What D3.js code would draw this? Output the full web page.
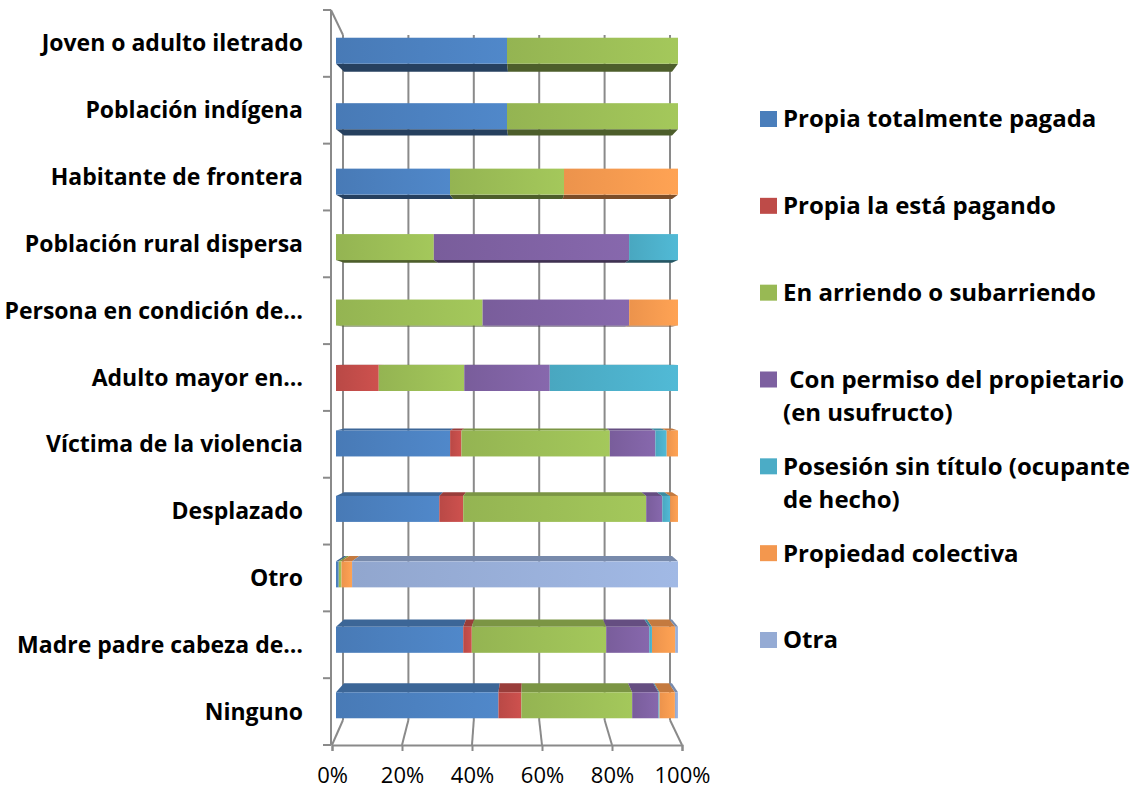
<!DOCTYPE html>
<html>
<head>
<meta charset="utf-8">
<script src="https://cdn.jsdelivr.net/npm/d3@7"></script>
<style>
  body { margin: 0; background: #fff; }
  text { font-family: "Open Sans", Lato, sans-serif; fill: #000; }
</style>
</head>
<body>
<div id="chart"></div>
<script>
// categories, top to bottom
var categories = [
  "Joven o adulto iletrado",
  "Población indígena",
  "Habitante de frontera",
  "Población rural dispersa",
  "Persona en condición de…",
  "Adulto mayor en…",
  "Víctima de la violencia",
  "Desplazado",
  "Otro",
  "Madre padre cabeza de…",
  "Ninguno"
];

// series names (legend lines)
var seriesNames = [
  "Propia totalmente pagada",
  "Propia la está pagando",
  "En arriendo o subarriendo",
  " Con permiso del propietario (en usufructo)",
  "Posesión sin título (ocupante de hecho)",
  "Propiedad colectiva",
  "Otra"
];
var legendLines = [
  ["Propia totalmente pagada"],
  ["Propia la está pagando"],
  ["En arriendo o subarriendo"],
  ["\u00a0Con permiso del propietario", "(en usufructo)"],
  ["Posesión sin título (ocupante", "de hecho)"],
  ["Propiedad colectiva"],
  ["Otra"]
];
var seriesColors = ["#4a7ebb", "#be4b48", "#98b954", "#7d60a0", "#4bacc6", "#f3974e", "#95abd4"];

// percent values per series, same order as categories
var propiaPagada   = [50, 50, 33.3, 0,    0,    0,    33.3, 30.2, 0.8, 37.2, 47.5];
var propiaPagando  = [0,  0,  0,    0,    0,    12.5, 3.3,  7.0,  0,   2.5,  6.7];
var arriendo       = [50, 50, 33.3, 28.6, 42.9, 25,   43.3, 53.5, 0.8, 39.3, 32.4];
var permiso        = [0,  0,  0,    57.1, 42.9, 25,   13.3, 4.7,  0,   12.6, 7.7];
var posesion       = [0,  0,  0,    14.3, 0,    37.5, 3.3,  2.3,  0,   0.8,  0.3];
var colectiva      = [0,  0,  33.3, 0,    14.3, 0,    3.3,  2.3,  3.1, 6.8,  4.5];
var otra           = [0,  0,  0,    0,    0,    0,    0,    0,    95.3, 0.8, 0.9];

var tickValues = [0, 0.2, 0.4, 0.6, 0.8, 1];

var seriesValues = [propiaPagada, propiaPagando, arriendo, permiso, posesion, colectiva, otra];

var rows = categories.map(function (c, i) {
  var r = { cat: c };
  seriesNames.forEach(function (s, j) { r[s] = seriesValues[j][i]; });
  return r;
});

var stacked = d3.stack().keys(seriesNames).offset(d3.stackOffsetExpand)(rows);

var W = 1143, H = 791;
var svg = d3.select('#chart').append('svg')
  .attr('width', W).attr('height', H);

// 3d-ish scales: front plane and back plane
var xFront = d3.scaleLinear().domain([0, 1]).range([332, 682]);
var xWall = d3.scaleLinear().domain([0, 1]).range([343, 670]);
var xBar = d3.scaleLinear().domain([0, 1]).range([336, 678]);
var xBarBack = d3.scaleLinear().domain([0, 1]).range([344, 672]);
var yAxis = d3.scaleBand().domain(categories).range([10, 745]);
var yBar = d3.scaleBand().domain(categories).range([18, 738]);
var barH = 26;
var eyeY = 360, depthK = 0.973;
function backY(y) { return eyeY + (y - eyeY) * depthK; }

var gridColor = '#8a8a8a';

// gradients
var defs = svg.append('defs');
seriesColors.forEach(function (c, i) {
  var g = defs.append('linearGradient').attr('id', 'grad' + i)
    .attr('x1', 0).attr('x2', 1).attr('y1', 0).attr('y2', 0);
  g.append('stop').attr('offset', '0%').attr('stop-color', d3.color(c).darker(0.08));
  g.append('stop').attr('offset', '100%').attr('stop-color', d3.color(c).brighter(0.22));
});

// back wall gridlines
svg.append('g').selectAll('line').data(tickValues).enter().append('line')
  .attr('x1', d => xWall(d)).attr('x2', d => xWall(d))
  .attr('y1', 35).attr('y2', 720)
  .attr('stroke', gridColor).attr('stroke-width', 2);

// floor lines
svg.append('g').selectAll('line').data(tickValues).enter().append('line')
  .attr('x1', d => xWall(d)).attr('x2', d => xFront(d))
  .attr('y1', 720).attr('y2', 745)
  .attr('stroke', gridColor).attr('stroke-width', 2);

// front floor edge with ticks
var xAxisG = svg.append('g')
  .attr('transform', 'translate(0,745)')
  .call(d3.axisBottom(xFront).tickValues(tickValues).tickFormat(d3.format('.0%')).tickSizeOuter(0).tickSize(6).tickPadding(16));
xAxisG.select('.domain').attr('stroke', gridColor).attr('stroke-width', 2);
xAxisG.selectAll('.tick line').attr('stroke', gridColor).attr('stroke-width', 2);
xAxisG.selectAll('.tick text')
  .style('font-family', '"Open Sans", sans-serif').style('font-size', '22px').attr('fill', '#000');

// left wall edges
svg.append('line').attr('x1', 331).attr('y1', 10).attr('x2', xWall(0)).attr('y2', 35)
  .attr('stroke', gridColor).attr('stroke-width', 2);
svg.append('line').attr('x1', 331).attr('y1', 10).attr('x2', 331).attr('y2', 745)
  .attr('stroke', gridColor).attr('stroke-width', 2);

// category ticks on the left axis
var bounds = categories.map(d => yAxis(d)).concat([yAxis.range()[1]]);
svg.append('g').selectAll('line').data(bounds).enter().append('line')
  .attr('x1', 323).attr('x2', 331)
  .attr('y1', d => d).attr('y2', d => d)
  .attr('stroke', gridColor).attr('stroke-width', 2);

// bars
var layer = svg.append('g').selectAll('g').data(stacked).enter().append('g');

layer.each(function (s, si) {
  var g = d3.select(this);
  var col = d3.color(seriesColors[si]);
  s.forEach(function (d) {
    if (d[1] - d[0] <= 0) return;
    var cy = yBar(d.data.cat) + yBar.bandwidth() / 2;
    var top = cy - barH / 2, bot = cy + barH / 2;
    var x0 = xBar(d[0]), x1 = xBar(d[1]);
    var bx0 = xBarBack(d[0]), bx1 = xBarBack(d[1]);
    // visible cap: underside above eye level, top side below it
    var edge = cy < eyeY ? bot : top;
    var face = cy < eyeY ? col.darker(1.9) : col.darker(0.6);
    g.append('path')
      .attr('d', 'M' + x0 + ',' + edge + 'L' + x1 + ',' + edge +
        'L' + bx1 + ',' + backY(edge) + 'L' + bx0 + ',' + backY(edge) + 'Z')
      .attr('fill', face);
    g.append('rect')
      .attr('x', x0).attr('y', top)
      .attr('width', x1 - x0).attr('height', barH)
      .attr('fill', 'url(#grad' + si + ')');
  });
});

// category labels
svg.append('g').selectAll('text').data(categories).enter().append('text')
  .attr('x', 303)
  .attr('y', d => yAxis(d) + yAxis.bandwidth() / 2)
  .attr('dy', '0.35em')
  .attr('text-anchor', 'end')
  .style('font-size', '23px').style('font-weight', 'bold')
  .text(d => d);

// legend
var legendY = d3.scalePoint().domain(seriesNames).range([119, 640]);
var leg = svg.append('g').selectAll('g').data(seriesNames).enter().append('g')
  .attr('transform', d => 'translate(760,' + legendY(d) + ')');
leg.append('rect').attr('x', 0).attr('y', -8).attr('width', 17).attr('height', 16)
  .attr('fill', (d, i) => seriesColors[i]);
leg.append('text')
  .attr('x', 23).attr('y', 0)
  .style('font-size', '24px').style('font-weight', 'bold')
  .each(function (d, i) {
    var t = d3.select(this);
    legendLines[i].forEach(function (ln, k) {
      t.append('tspan').attr('x', 23).attr('dy', k === 0 ? '0.35em' : '33px').text(ln);
    });
  });
</script>
</body>
</html>
